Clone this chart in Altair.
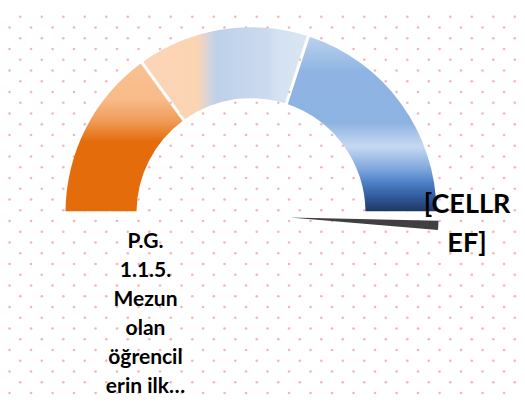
import math
import pandas as pd
import altair as alt

# ---- data ----
segment_names = ["low", "mid", "high"]
segment_values = [30, 30, 40]          # share of the half-circle gauge (total 100)
needle_start = [100.7]                 # needle slice, in gauge units
needle_end = [102.7]
label_main = "P.G.\n1.1.5.\nMezun\nolan\nöğrencil\nerin ilk…"
label_value = "[CELLR\nEF]"

W, H = 509, 387

# ---- decorative dotted background (pattern fill) ----
step = 10.75
dots = []
for i in range(0, 48):
    for j in range(1, 37):
        if (i + j) % 2 == 0:
            px = 1.55 + step * i
            py = -2.05 + step * j
            if px <= W and py <= H:
                dots.append({"px": px, "py": py})
dots_df = pd.DataFrame(dots)

bg = alt.Chart(dots_df).mark_point(filled=True, size=7, color="#eeb0b5", opacity=0.9).encode(
    x=alt.X("px:Q", scale=None, axis=None),
    y=alt.Y("py:Q", scale=None, axis=None),
)

seg_df = pd.DataFrame({"name": segment_names, "value": segment_values, "order": list(range(len(segment_names)))})

theta_scale = alt.Scale(domain=[0, 100], range=[-math.pi / 2, math.pi / 2])

cx, cy = 243, 204.7
r_out, r_in = 185.5, 114.5

grads = {
    "low": {"gradient": "linear", "x1": 0, "y1": 0, "x2": 0, "y2": 1, "stops": [
        {"offset": 0, "color": "#f9c192"},
        {"offset": 0.24, "color": "#f8bb89"},
        {"offset": 0.39, "color": "#ef9c58"},
        {"offset": 0.53, "color": "#e46c0a"},
        {"offset": 1, "color": "#e46c0a"}]},
    "mid": {"gradient": "linear", "x1": 0, "y1": 0, "x2": 1, "y2": 0, "stops": [
        {"offset": 0, "color": "#fbd5b5"},
        {"offset": 0.33, "color": "#fbd4b4"},
        {"offset": 0.39, "color": "#dcd4d6"},
        {"offset": 0.45, "color": "#bed1ea"},
        {"offset": 0.76, "color": "#cbdaee"},
        {"offset": 0.82, "color": "#d5e2f1"},
        {"offset": 1, "color": "#dae5f2"}]},
    "high": {"gradient": "linear", "x1": 0, "y1": 0, "x2": 0, "y2": 1, "stops": [
        {"offset": 0, "color": "#bad1ed"},
        {"offset": 0.2, "color": "#8fb4e3"},
        {"offset": 0.49, "color": "#8db3e2"},
        {"offset": 0.63, "color": "#c6d9f1"},
        {"offset": 0.76, "color": "#7ea6dc"},
        {"offset": 0.84, "color": "#4a7fc6"},
        {"offset": 0.92, "color": "#2f5a99"},
        {"offset": 1, "color": "#1f3864"}]},
}

base = alt.Chart(seg_df).transform_window(
    cum="sum(value)", sort=[alt.SortField("order")], frame=[None, 0]
).transform_calculate(start="datum.cum - datum.value")

seg_layers = []
for n in segment_names:
    seg_layers.append(
        base.transform_filter(alt.datum.name == n).mark_arc(
            outerRadius=r_out, innerRadius=r_in, padAngle=0.014, color=grads[n]
        ).encode(
            theta=alt.Theta("start:Q", scale=theta_scale),
            theta2="cum:Q",
            x=alt.value(cx),
            y=alt.value(cy),
        )
    )

needle_df = pd.DataFrame({"start": needle_start, "end": needle_end})
needle = alt.Chart(needle_df).mark_arc(outerRadius=148.5, innerRadius=0, color="#404040").encode(
    theta=alt.Theta("start:Q", scale=theta_scale),
    theta2="end:Q",
    x=alt.value(282),
    y=alt.value(209.5),
)

txt_main = alt.Chart(pd.DataFrame({"t": [label_main]})).mark_text(
    lineBreak="\n", lineHeight=29, font="Lato", fontSize=21, fontWeight="bold",
    align="center", baseline="alphabetic", color="#000000"
).encode(text="t:N", x=alt.value(137.5), y=alt.value(240.3))

txt_val = alt.Chart(pd.DataFrame({"t": [label_value]})).mark_text(
    lineBreak="\n", lineHeight=38.5, font="Lato", fontSize=27, fontWeight="bold",
    align="center", baseline="alphabetic", color="#000000"
).encode(text="t:N", x=alt.value(459), y=alt.value(205.3))

chart = alt.layer(bg, *seg_layers, needle, txt_main, txt_val).properties(
    width=W, height=H, padding=0, background="white"
).configure_view(strokeWidth=0)

chart.save("out.html", embed_options={"renderer": "svg", "actions": False})
